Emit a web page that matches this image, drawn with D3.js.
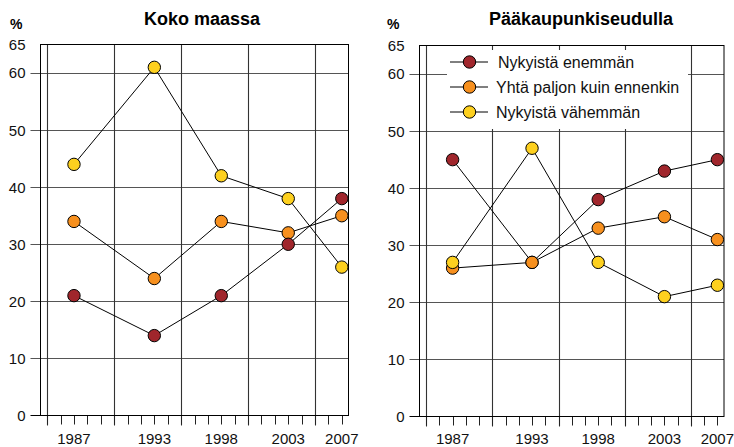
<!DOCTYPE html>
<html><head><meta charset="utf-8">
<script src="https://cdn.jsdelivr.net/npm/d3@7"></script>
<style>body{margin:0;background:#fff}svg{display:block;font-family:"Liberation Sans",Arial,sans-serif}</style>
</head><body>
<svg id="c" width="734" height="447"></svg>
<script>
const years = [1987, 1993, 1998, 2003, 2007];
const seriesNames = ["Nykyistä enemmän", "Yhtä paljon kuin ennenkin", "Nykyistä vähemmän"];
const seriesColors = ["#a0262c", "#f7901e", "#fdd01f"];
const yTicks = [0, 10, 20, 30, 40, 50, 60, 65];
const gridYears = [1985, 1990, 1995, 2000, 2005];
const panelTitles = ["Koko maassa", "Pääkaupunkiseudulla"];
// Koko maassa
const kokoEnemman = [21, 14, 21, 30, 38];
const kokoYhta = [34, 24, 34, 32, 35];
const kokoVahemman = [44, 61, 42, 38, 26];
// Pääkaupunkiseudulla
const pkEnemman = [45, 27, 38, 43, 45];
const pkYhta = [26, 27, 33, 35, 31];
const pkVahemman = [27, 47, 27, 21, 23];

const svg = d3.select("#c");
const panels = [
  {title: panelTitles[0], data: [kokoEnemman, kokoYhta, kokoVahemman], order: [1, 0, 2],
   x0: 40.5, x1: 348.5, y0: 415.5, y1: 44.5, titleX: 202, pctX: 10, legend: false},
  {title: panelTitles[1], data: [pkEnemman, pkYhta, pkVahemman], order: [0, 1, 2],
   x0: 419.5, x1: 724, y0: 416.5, y1: 45.5, titleX: 581, pctX: 387, legend: true}
];

panels.forEach(p => {
  const g = svg.append("g");
  const x = d3.scaleLinear().domain([1984.5, 2007.5]).range([p.x0, p.x1]);
  const y = d3.scaleLinear().domain([0, 65]).range([p.y0, p.y1]);

  // horizontal gridlines + y ticks
  yTicks.forEach(v => {
    if (v > 0 && v < 65) {
      g.append("line").attr("x1", p.x0 - 10).attr("x2", p.x1)
        .attr("y1", Math.round(y(v)) + 0.5).attr("y2", Math.round(y(v)) + 0.5)
        .attr("stroke", "#555").attr("stroke-width", 1.2);
    }
    if (v === 0) {
      g.append("line").attr("x1", p.x0 - 10).attr("x2", p.x0)
        .attr("y1", y(v)).attr("y2", y(v)).attr("stroke", "#000");
    }
    g.append("text").attr("x", p.x0 - 15).attr("y", y(v)).attr("dy", "0.36em")
      .attr("text-anchor", "end").attr("font-size", 15).attr("fill", "#111").text(v);
  });

  // vertical gridlines
  gridYears.forEach(yr => {
    g.append("line").attr("x1", Math.round(x(yr)) + 0.5).attr("x2", Math.round(x(yr)) + 0.5)
      .attr("y1", p.y1).attr("y2", p.y0 + 10).attr("stroke", "#333").attr("stroke-width", 1.1);
  });
  // minor ticks each year
  d3.range(1985, 2008).forEach(yr => {
    g.append("line").attr("x1", Math.round(x(yr)) + 0.5).attr("x2", Math.round(x(yr)) + 0.5)
      .attr("y1", p.y0).attr("y2", p.y0 + 9).attr("stroke", "#222");
  });

  // frame
  g.append("rect").attr("x", p.x0).attr("y", p.y1).attr("width", p.x1 - p.x0).attr("height", p.y0 - p.y1)
    .attr("fill", "none").attr("stroke", "#000").attr("stroke-width", 1);

  // year labels
  years.forEach(yr => {
    g.append("text").attr("x", x(yr)).attr("y", 444).attr("text-anchor", "middle")
      .attr("font-size", 15).attr("fill", "#111").text(yr);
  });

  // title and %
  g.append("text").attr("x", p.titleX).attr("y", 25).attr("text-anchor", "middle")
    .attr("font-size", 18).attr("font-weight", "bold").text(p.title);
  g.append("text").attr("x", p.pctX).attr("y", 29).attr("font-size", 14)
    .attr("font-weight", "bold").text("%");

  // legend background
  if (p.legend) {
    g.append("rect").attr("x", 447).attr("y", 50).attr("width", 241).attr("height", 79).attr("fill", "#fff");
    seriesNames.forEach((name, i) => {
      const ly = 62 + i * 25;
      g.append("line").attr("x1", 450).attr("x2", 488).attr("y1", ly).attr("y2", ly).attr("stroke", "#000");
      g.append("circle").attr("cx", 469.5).attr("cy", ly).attr("r", 6.2)
        .attr("fill", seriesColors[i]).attr("stroke", "#000").attr("stroke-width", 1);
      g.append("text").attr("x", i === 0 ? 498 : 496).attr("y", ly).attr("dy", "0.36em")
        .attr("font-size", 16).attr("fill", "#111").text(name);
    });
  }

  // lines
  const line = d3.line().x((d, i) => x(years[i])).y(d => y(d));
  p.data.forEach(vals => {
    g.append("path").attr("d", line(vals)).attr("fill", "none").attr("stroke", "#000").attr("stroke-width", 1);
  });
  // markers
  p.order.forEach(si => {
    g.selectAll(null).data(p.data[si]).enter().append("circle")
      .attr("cx", (d, i) => x(years[i])).attr("cy", d => y(d)).attr("r", 6.2)
      .attr("fill", seriesColors[si]).attr("stroke", "#000").attr("stroke-width", 1);
  });
});
</script>
</body></html>
